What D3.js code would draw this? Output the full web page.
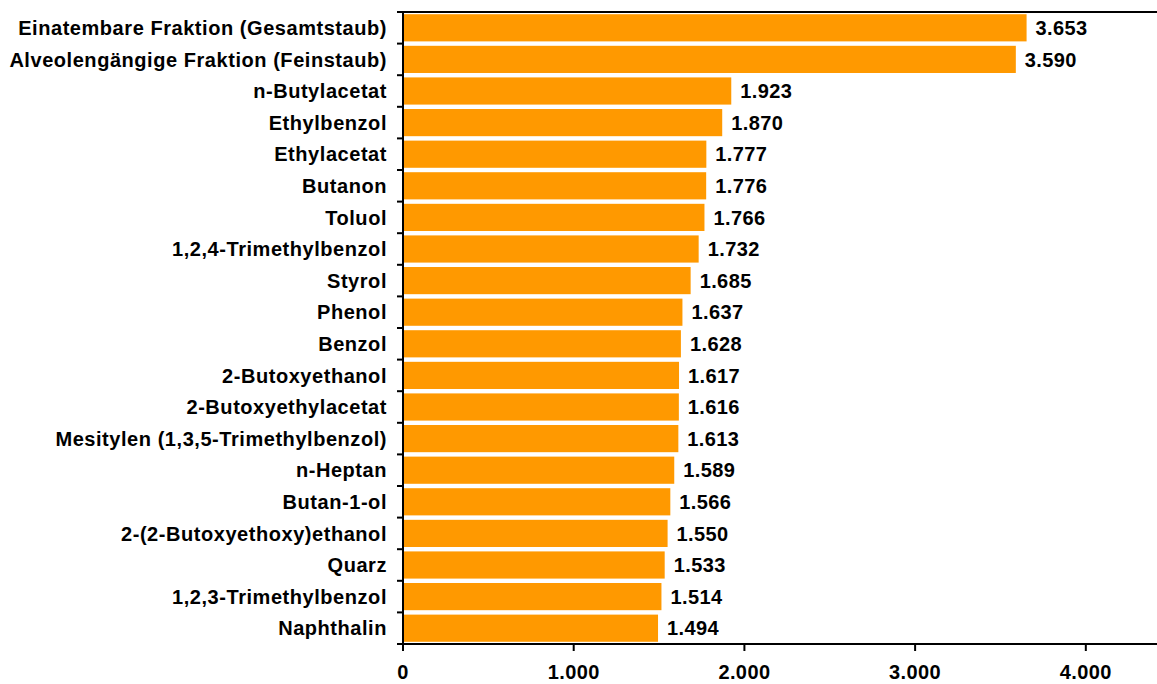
<!DOCTYPE html>
<html><head><meta charset="utf-8">
<script src="https://cdn.jsdelivr.net/npm/d3@7/dist/d3.min.js"></script>
<style>body{margin:0;background:#fff}svg{display:block}text{font-family:"Liberation Sans",Arial,sans-serif;font-weight:bold;fill:#000}</style>
</head><body><svg id="c" width="1157" height="684"></svg>
<script>
const categories = ["Einatembare Fraktion (Gesamtstaub)","Alveolengängige Fraktion (Feinstaub)","n-Butylacetat","Ethylbenzol","Ethylacetat","Butanon","Toluol","1,2,4-Trimethylbenzol","Styrol","Phenol","Benzol","2-Butoxyethanol","2-Butoxyethylacetat","Mesitylen (1,3,5-Trimethylbenzol)","n-Heptan","Butan-1-ol","2-(2-Butoxyethoxy)ethanol","Quarz","1,2,3-Trimethylbenzol","Naphthalin"];
const values = [3653,3590,1923,1870,1777,1776,1766,1732,1685,1637,1628,1617,1616,1613,1589,1566,1550,1533,1514,1494];
const xTicks = [0,1000,2000,3000,4000];
const fmt = v => d3.format(",")(v).replace(/,/g,".");
const fmtVal = v => (v/1000).toFixed(3);

const svg = d3.select("#c");
const mLeft = 403, mRight = 1157, mTop = 12, mBottom = 644;
const FS = "20px";
const x = d3.scaleLinear().domain([0,4417]).range([mLeft,mRight]);
const y = d3.scaleBand().domain(categories).range([mTop,mBottom]).paddingInner(0.14).paddingOuter(0.07);

svg.append("g").selectAll("rect").data(values).join("rect")
  .attr("x", x(0)+1).attr("y",(d,i)=>y(categories[i]))
  .attr("width", d=>x(d)-x(0)-1).attr("height", y.bandwidth())
  .attr("fill","#FF9900");

svg.append("g").selectAll("text").data(values).join("text")
  .attr("x", d=>x(d)+9).attr("y",(d,i)=>y(categories[i])+y.bandwidth()/2)
  .attr("dy","0.36em").attr("font-size",FS).attr("letter-spacing","0.4px").text(d=>fmtVal(d));

svg.append("line").attr("x1",mLeft).attr("x2",mRight).attr("y1",mTop).attr("y2",mTop)
  .attr("stroke","#000").attr("stroke-width",2);

const yStep = (mBottom-mTop)/categories.length;
const ya = svg.append("g");
ya.append("line").attr("x1",mLeft).attr("x2",mLeft).attr("y1",mTop).attr("y2",mBottom).attr("stroke","#000").attr("stroke-width",2);
ya.selectAll("line.t").data(d3.range(categories.length+1)).join("line").attr("class","t")
  .attr("x1",mLeft-6).attr("x2",mLeft).attr("y1",i=>mTop+i*yStep).attr("y2",i=>mTop+i*yStep)
  .attr("stroke","#000").attr("stroke-width",2);
ya.selectAll("text").data(categories).join("text")
  .attr("x",mLeft-16).attr("y",d=>y(d)+y.bandwidth()/2).attr("dy","0.36em")
  .attr("text-anchor","end").attr("font-size",FS).attr("letter-spacing","0.55px").text(d=>d);

const xa = svg.append("g");
xa.append("line").attr("x1",mLeft).attr("x2",mRight).attr("y1",mBottom).attr("y2",mBottom).attr("stroke","#000").attr("stroke-width",2);
xa.selectAll("line.t").data(xTicks).join("line").attr("class","t")
  .attr("x1",d=>x(d)).attr("x2",d=>x(d)).attr("y1",mBottom).attr("y2",mBottom+7)
  .attr("stroke","#000").attr("stroke-width",2);
xa.selectAll("text").data(xTicks).join("text")
  .attr("x",d=>x(d)).attr("y",mBottom+35).attr("text-anchor","middle").attr("font-size",FS).attr("letter-spacing","0.4px").text(d=>fmt(d));
</script></body></html>
